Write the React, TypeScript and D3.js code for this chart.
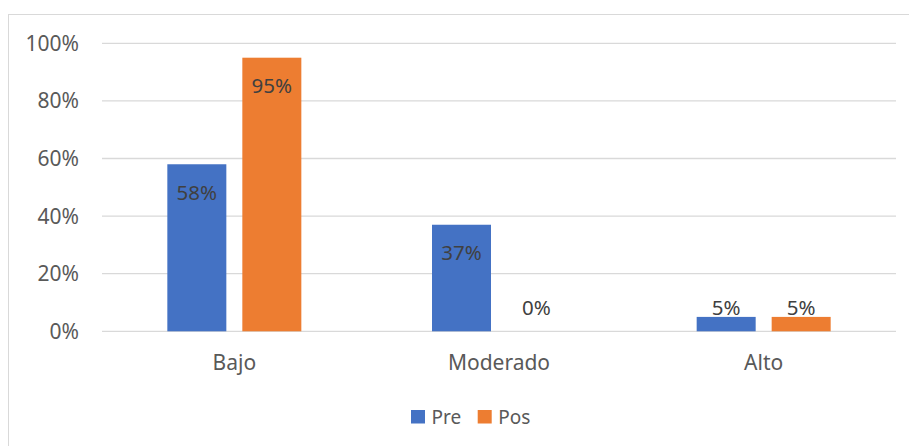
import React from "react";
import * as d3 from "d3";

// Risk levels on the x axis and the two measurement moments
const categories = ["Bajo", "Moderado", "Alto"];
const seriesNames = ["Pre", "Pos"];
const preValues = [58, 37, 5];
const posValues = [95, 0, 5];
const yTicks = [0, 20, 40, 60, 80, 100];

const colors: Record<string, string> = { Pre: "#4472C4", Pos: "#ED7D31" };

const W = 909;
const H = 446;
const FONT = "'Noto Sans', 'Open Sans', sans-serif";

export default function App() {
  const plotLeft = 102;
  const plotRight = 896;
  const yTop = 43.3;
  const yBottom = 331.3;

  const y = d3.scaleLinear().domain([0, 100]).range([yBottom, yTop]);
  const x0 = d3
    .scaleBand<string>()
    .domain(categories)
    .range([plotLeft, plotRight])
    .paddingInner(0)
    .paddingOuter(0);
  const groupWidth = 134;
  const x1 = d3
    .scaleBand<string>()
    .domain(seriesNames)
    .range([0, groupWidth])
    .paddingInner(0.2133)
    .paddingOuter(0);

  const rows = categories.map((c, i) => ({
    category: c,
    values: [
      { name: "Pre", value: preValues[i] },
      { name: "Pos", value: posValues[i] },
    ],
  }));

  const legendItems = [
    { name: "Pre", x: 411 },
    { name: "Pos", x: 477.7 },
  ];

  return (
    <div style={{ position: "absolute", left: 0, top: 0 }}>
      <svg width={W} height={H} style={{ display: "block", background: "#fff" }}>
        <rect x={8.5} y={14.5} width={W + 20} height={H + 20} fill="#fff" stroke="#D9D9D9" strokeWidth={1} />

        {/* gridlines */}
        {yTicks.map((t) => (
          <line key={t} x1={plotLeft} x2={plotRight} y1={y(t)} y2={y(t)} stroke="#D9D9D9" strokeWidth={1.3} />
        ))}

        {/* y tick labels */}
        {yTicks.map((t) => (
          <text
            key={"yl" + t}
            x={79}
            y={y(t)}
            dy="0.36em"
            textAnchor="end"
            fontFamily={FONT}
            fontSize={21}
            fill="#595959"
          >
            {t}%
          </text>
        ))}

        {/* bars */}
        {rows.map((r) => {
          const gx = (x0(r.category) as number) + (x0.bandwidth() - groupWidth) / 2;
          return (
            <g key={r.category} transform={`translate(${gx},0)`}>
              {r.values.map((v) => (
                <rect
                  key={v.name}
                  x={x1(v.name)}
                  y={y(v.value)}
                  width={x1.bandwidth()}
                  height={y(0) - y(v.value)}
                  fill={colors[v.name]}
                />
              ))}
              {r.values.map((v) => (
                <text
                  key={"l" + v.name}
                  x={(x1(v.name) as number) + x1.bandwidth() / 2}
                  y={Math.min(y(v.value) + 28, y(0) - 24)}
                  dy="0.36em"
                  textAnchor="middle"
                  fontFamily={FONT}
                  fontSize={20.5}
                  fill="#404040"
                >
                  {v.value}%
                </text>
              ))}
            </g>
          );
        })}

        {/* category labels */}
        {categories.map((c) => (
          <text
            key={"c" + c}
            x={(x0(c) as number) + x0.bandwidth() / 2}
            y={370}
            textAnchor="middle"
            fontFamily={FONT}
            fontSize={21}
            fill="#595959"
          >
            {c}
          </text>
        ))}

        {/* legend */}
        {legendItems.map((l) => (
          <g key={"lg" + l.name}>
            <rect x={l.x} y={410} width={14} height={13.5} fill={colors[l.name]} />
            <text x={l.x + 20.5} y={416.7} dy="0.36em" fontFamily={FONT} fontSize={19} fill="#595959">
              {l.name}
            </text>
          </g>
        ))}
      </svg>
    </div>
  );
}
